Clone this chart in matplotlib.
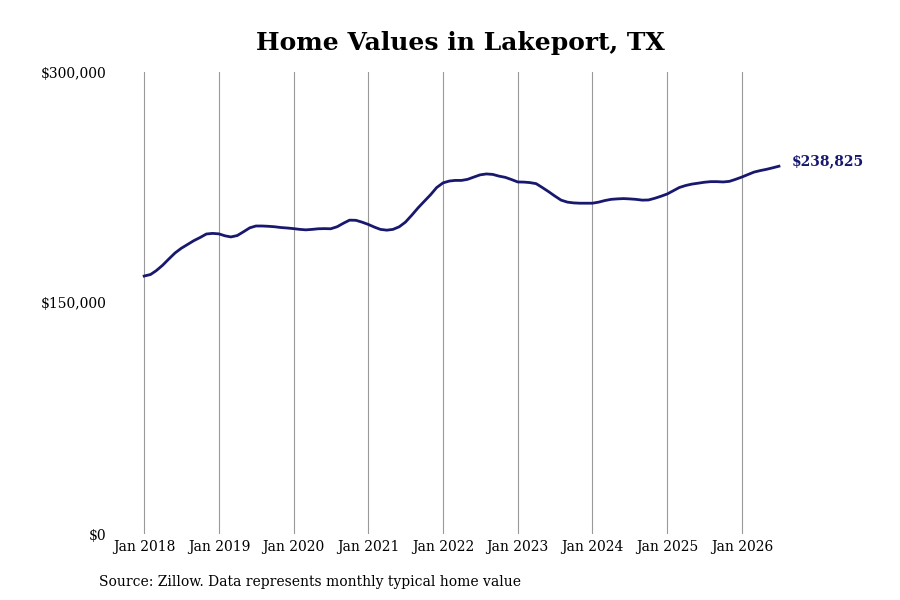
import pandas as pd
import matplotlib
matplotlib.use("Agg")
import matplotlib.pyplot as plt
import matplotlib.dates as mdates
from matplotlib.ticker import FuncFormatter

# monthly typical home value, Jan 2018 - Jul 2026 (in $ thousands)
values_2018 = [167.5, 168.5, 171.0, 174.5, 178.5, 182.5, 185.5, 188.0, 190.5, 192.5, 194.8, 195.2]
values_2019 = [194.9, 193.6, 192.9, 193.8, 196.2, 198.8, 200.0, 200.0, 199.8, 199.5, 199.0, 198.7]
values_2020 = [198.3, 197.8, 197.5, 197.8, 198.2, 198.3, 198.2, 199.5, 201.8, 203.8, 203.7, 202.5]
values_2021 = [201.0, 199.2, 197.8, 197.3, 197.8, 199.5, 202.5, 207.0, 211.8, 216.0, 220.3, 225.0]
values_2022 = [228.0, 229.2, 229.6, 229.6, 230.3, 231.8, 233.2, 233.8, 233.5, 232.4, 231.6, 230.2]
values_2023 = [228.6, 228.5, 228.2, 227.5, 225.0, 222.3, 219.5, 216.8, 215.5, 215.0, 214.8, 214.8]
values_2024 = [214.8, 215.5, 216.5, 217.3, 217.6, 217.8, 217.6, 217.3, 216.8, 216.9, 218.0, 219.3]
values_2025 = [220.8, 223.0, 225.0, 226.3, 227.2, 227.8, 228.4, 228.8, 228.8, 228.6, 229.0, 230.3]
values_2026 = [231.8, 233.5, 235.0, 236.0, 236.8, 237.8, 238.825]

values = (values_2018 + values_2019 + values_2020 + values_2021 + values_2022
          + values_2023 + values_2024 + values_2025 + values_2026)
values = [v * 1000 for v in values]
dates = pd.date_range("2018-01-01", periods=len(values), freq="MS")

title = "Home Values in Lakeport, TX"
source = "Source: Zillow. Data represents monthly typical home value"
y_ticks = [0, 150000, 300000]

plt.rcParams['font.family'] = ['DejaVu Serif']
line_color = '#18186e'

fig = plt.figure(figsize=(9, 6), dpi=100)
ax = fig.add_axes([0.122, 0.11, 0.756, 0.77])

ax.plot(dates, values, color=line_color, lw=2)

ax.set_ylim(0, 300000)
ax.set_yticks(y_ticks)
ax.yaxis.set_major_formatter(FuncFormatter(lambda v, p: "${:,.0f}".format(v)))

ax.set_xlim(pd.Timestamp("2017-07-17"), pd.Timestamp("2026-08-25"))
ax.xaxis.set_major_locator(mdates.YearLocator())
ax.xaxis.set_major_formatter(mdates.DateFormatter("Jan %Y"))
ax.grid(axis='x', color='#999999', lw=0.8)
ax.grid(axis='y', visible=False)

for s in ax.spines.values():
    s.set_visible(False)
ax.tick_params(axis='both', length=0, labelsize=10)
ax.tick_params(axis='x', pad=4)
ax.tick_params(axis='y', pad=2.5)

# end label
ax.annotate("${:,.0f}".format(values[-1]), (dates[-1], values[-1]),
            xytext=(9.5, 3.5), textcoords='offset points', va='center', ha='left',
            fontsize=10, fontweight='bold', color=line_color)

fig.suptitle(title, x=0.512, y=0.928, va='center', fontsize=18, fontweight='bold')
fig.text(0.11, 0.03, source, fontsize=10, ha='left', va='center')

fig.savefig("out.png", dpi=100, facecolor='white')
